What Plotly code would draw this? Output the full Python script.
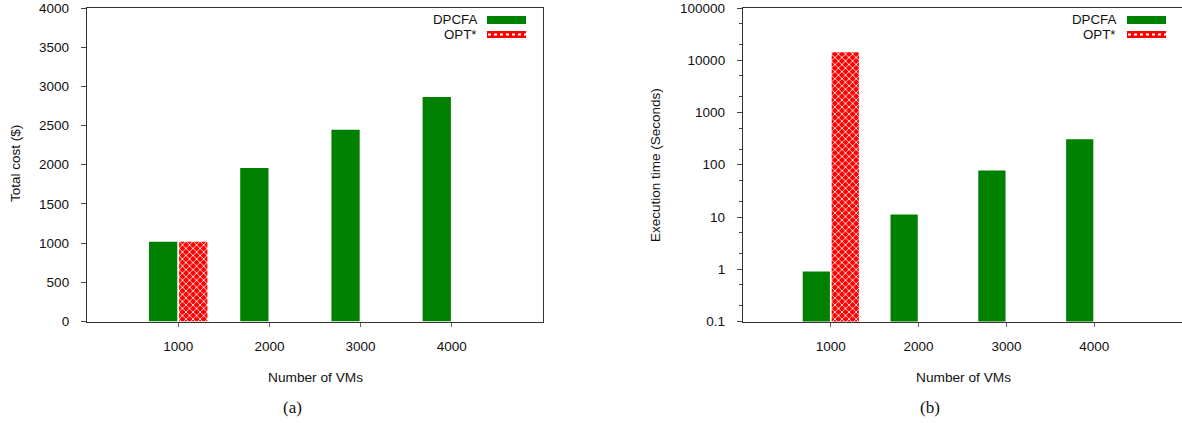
import plotly.graph_objects as go

W, H = 1182, 423

categories = ["1000", "2000", "3000", "4000"]
cost_dpcfa = [1016, 1960, 2445, 2866]
cost_opt = [1016, None, None, None]
time_dpcfa = [0.91, 11.2, 78, 308]
time_opt = [14300, None, None, None]
cost_ticks = [0, 500, 1000, 1500, 2000, 2500, 3000, 3500, 4000]
time_ticks = [0.1, 1, 10, 100, 1000, 10000, 100000]
time_tick_labels = ["0.1", "1", "10", "100", "1000", "10000", "100000"]
series_names = ["DPCFA", "OPT*"]

GREEN = "#008000"
RED = "#ff0000"
FONT = "Liberation Sans, Arial, sans-serif"
TXT = "#111111"
AX = "#333333"


def px(x):
    return x / W


def py(y):
    return 1 - y / H


fig = go.Figure()

bw = 0.31
for xa, ya, d, o in [("x", "y", cost_dpcfa, cost_opt), ("x2", "y2", time_dpcfa, time_opt)]:
    fig.add_trace(go.Bar(x=categories, y=d, xaxis=xa, yaxis=ya, name=series_names[0],
                         marker=dict(color=GREEN, line=dict(width=0)),
                         offset=-0.32, width=bw, showlegend=False))
    fig.add_trace(go.Bar(x=categories, y=o, xaxis=xa, yaxis=ya, name=series_names[1],
                         marker=dict(color=RED, line=dict(width=0),
                                     pattern=dict(shape="x", fgcolor="white", bgcolor=RED,
                                                  size=5, solidity=0.3, fillmode="replace")),
                         offset=0.01, width=bw, showlegend=False))

ydom = [py(321.5), py(8)]
tickfont = dict(family=FONT, size=13.5, color=TXT)
common_x = dict(type="category", range=[-1, 4], showline=True, linecolor=AX, linewidth=1.3,
                ticks="outside", ticklen=4, tickcolor="#666", tickfont=tickfont,
                showgrid=False, zeroline=False, ticklabelstandoff=8, automargin=False)
fig.update_layout(
    template="none",
    width=W, height=H, margin=dict(l=0, r=0, t=0, b=0, pad=0), autosize=False,
    paper_bgcolor="white", plot_bgcolor="white", barmode="overlay", showlegend=False,
    xaxis=dict(domain=[px(87), px(543)], anchor="y", mirror=True, **common_x),
    yaxis=dict(domain=ydom, anchor="x", range=[0, 4000], tickvals=cost_ticks,
               showline=True, mirror=True, linecolor=AX, linewidth=1.3,
               ticks="outside", ticklen=5, tickcolor="#444", tickfont=tickfont,
               showgrid=False, zeroline=False, ticklabelstandoff=9, automargin=False),
    xaxis2=dict(domain=[px(743), 1], anchor="y2", mirror=True, **common_x),
    yaxis2=dict(domain=ydom, anchor="x2", type="log", range=[-1, 5],
                tickvals=time_ticks, ticktext=time_tick_labels,
                showline=True, mirror=False, linecolor=AX, linewidth=1.3,
                ticks="outside", ticklen=5, tickcolor="#444", tickfont=tickfont,
                minor=dict(ticks="outside", ticklen=3, tickcolor="#444", showgrid=False),
                showgrid=False, zeroline=False, ticklabelstandoff=9, automargin=False),
)

ann = []
shapes = []


def text(t, x, y, size=13.5, family=FONT, xanchor="center", angle=0):
    ann.append(dict(text=t, x=px(x), y=py(y), xref="paper", yref="paper",
                    xanchor=xanchor, yanchor="middle", textangle=angle, showarrow=False,
                    borderpad=0, font=dict(family=family, size=size, color=TXT)))


text("Total cost ($)", 15, 164, angle=-90)
text("Execution time (Seconds)", 655, 165, angle=-90)
for cx in (315, 963):
    text("Number of VMs", cx, 377, size=13.7)
for cx, lab in [(292, "(a)"), (930, "(b)")]:
    text(lab, cx, 407, size=17, family="Liberation Serif, Times New Roman, serif")

# legends (text right-aligned, key on the right)
for tx, kx0, kx1 in [(478, 487, 526), (1117, 1127, 1166)]:
    for name, yc in zip(series_names, [20, 34.8]):
        text(name, tx, yc, size=13.3, xanchor="right")
    shapes.append(dict(type="rect", xref="paper", yref="paper", x0=px(kx0), x1=px(kx1),
                       y0=py(24), y1=py(16), fillcolor=GREEN, line=dict(width=0)))
    shapes.append(dict(type="rect", xref="paper", yref="paper", x0=px(kx0), x1=px(kx1),
                       y0=py(38), y1=py(31), fillcolor=RED, line=dict(width=0)))
    shapes.append(dict(type="line", xref="paper", yref="paper", x0=px(kx0 + 1), x1=px(kx1),
                       y0=py(34.5), y1=py(34.5), line=dict(color="white", width=2, dash="dot")))

fig.update_layout(annotations=ann, shapes=shapes)
fig.write_html(
    "out.html",
    config={"displayModeBar": False, "responsive": False},
    post_script=("document.documentElement.style.margin='0';"
                 "document.documentElement.style.overflow='hidden';"
                 "document.body.style.margin='0';document.body.style.padding='0';"
                 "document.body.style.overflow='hidden';"),
)
